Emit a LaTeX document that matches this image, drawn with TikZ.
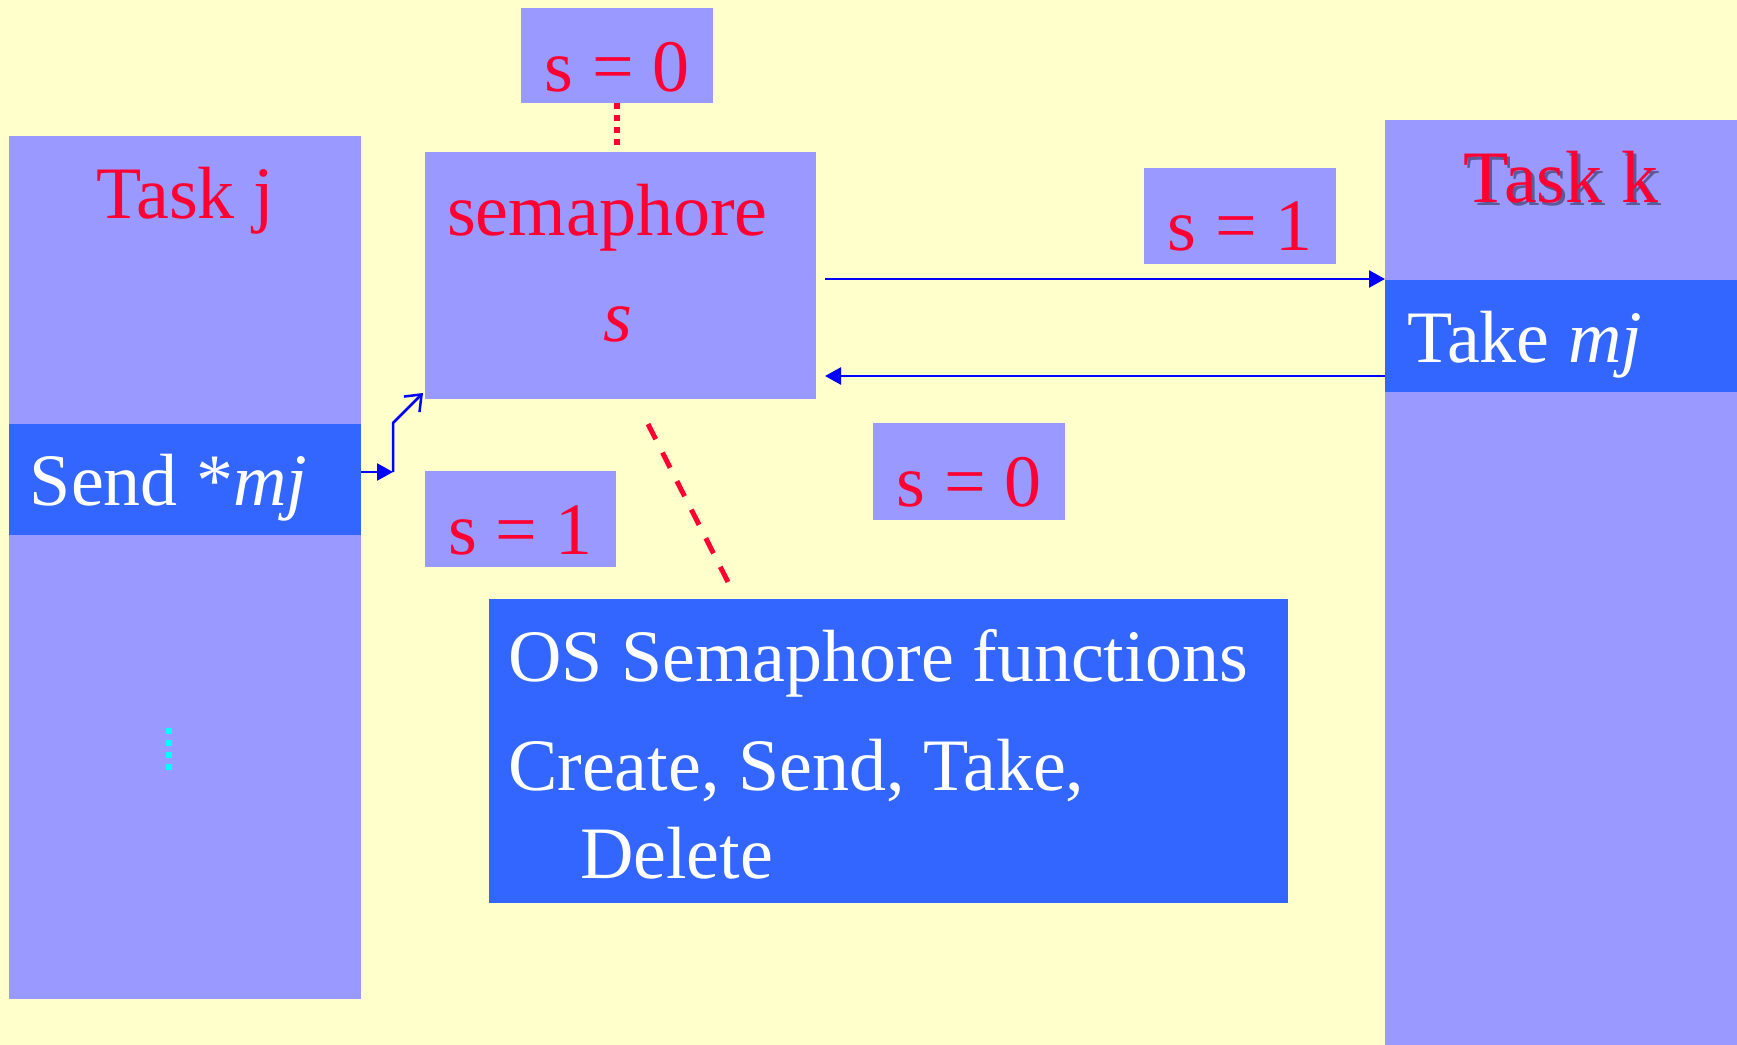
\documentclass[tikz,border=0pt]{standalone}
\usepackage{fontspec}
\setmainfont{Liberation Serif}
\usetikzlibrary{arrows.meta,fit}

\definecolor{paper}{HTML}{FFFFCC}
\definecolor{lav}{HTML}{9999FF}
\definecolor{band}{HTML}{3366FF}
\definecolor{redtext}{HTML}{FF0033}
\definecolor{flowblue}{HTML}{0000FF}
\definecolor{dotcyan}{HTML}{00FFFF}

\begin{document}
\begin{tikzpicture}[x=0.5pt,y=-0.5pt,
  panel/.style={fit={#1}, inner sep=0pt, outer sep=0pt, fill=lav, draw=none},
  strip/.style={fit={#1}, inner sep=0pt, outer sep=0pt, fill=band, draw=none},
  txt/.style={inner sep=0pt, outer sep=0pt, font=\fontsize{37pt}{44pt}\selectfont},
  redlabel/.style={txt, text=redtext},
  whitelabel/.style={txt, text=white},
  flow/.style={draw=flowblue, line width=1.25pt, -{Triangle[length=8pt,width=8.5pt]}},
  barbflow/.style={draw=flowblue, line width=1.25pt, -{Straight Barb[length=7pt,width=11pt]}},
  reddots/.style={draw=redtext, line width=3pt, dash pattern=on 3pt off 3pt},
  reddash/.style={draw=redtext, line width=2.5pt, dash pattern=on 8.5pt off 7.5pt},
  cyandots/.style={draw=dotcyan, line width=3pt, dash pattern=on 3pt off 3pt}
]
% page
\useasboundingbox (0,0) rectangle (1737,1045);
\fill[paper] (0,0) rectangle (1737,1045);

% task columns
\node[panel={(9,136)(361,999)}] (taskj) {};
\node[strip={(9,424)(361,535)}] (sendband) {};
\node[panel={(1385,120)(1737,1045)}] (taskk) {};
\node[strip={(1385,280)(1737,392)}] (takeband) {};

% semaphore and its value boxes
\node[panel={(425,152)(816,399)}] (sem) {};
\node[panel={(521,8)(713,103)}] (initval) {};
\node[panel={(1144,168)(1336,264)}] (valtake) {};
\node[panel={(873,423)(1065,520)}] (valback) {};
\node[panel={(425,471)(616,567)}] (valsend) {};

% OS function list
\node[strip={(489,599)(1288,903)}] (osbox) {};

% labels
\node[redlabel, anchor=base] (tjname) at (185,218) {Task j};
\node[txt, anchor=base, text=black, opacity=0.4] at (1564,205) {Task k};
\node[redlabel, anchor=base] (tkname) at (1561,202) {Task k};
\node[redlabel, anchor=base west] (semname) at (447,235) {semaphore};
\node[redlabel, anchor=base] (semvar) at (618,341) {\textit{s}};
\node[whitelabel, anchor=base west] (sendtxt) at (30,505) {Send *\textit{mj}};
\node[whitelabel, anchor=base west] (taketxt) at (1407,362) {Take \textit{mj}};
\node[redlabel, anchor=base] at (initval.center |- 0,91) {s = 0};
\node[redlabel, anchor=base] at (valtake.center |- 0,250) {s = 1};
\node[redlabel, anchor=base] at (valback.center |- 0,506) {s = 0};
\node[redlabel, anchor=base] at (valsend.center |- 0,554) {s = 1};
\node[whitelabel, anchor=base west] (osl1) at (508,681) {OS Semaphore functions};
\node[whitelabel, anchor=base west] (osl2) at (508,790) {Create, Send, Take,};
\node[whitelabel, anchor=base west] (osl3) at (580,878) {Delete};

% initial value tie
\draw[reddots] (initval.south) -- ([yshift=3pt]initval.south |- sem.north);

% pointer from the semaphore to the function list
\coordinate (tieA) at (648,424);
\coordinate (tieB) at (729,584);
\draw[reddash] (tieA) -- (tieB);

% elided steps in task j
\draw[cyandots] (169,728) -- (169,770);

% send path
\coordinate (bend) at (393,472);
\draw[flow] (sendband.east |- bend) -- (bend);
\draw[barbflow] (bend) -- (393,423) -- ([shift={(-1pt,3pt)}]sem.south west);

% take and release
\draw[flow] ([xshift=4.5pt]sem.east |- 0,279) -- (taskk.west |- 0,279);
\draw[flow] (taskk.west |- 0,376) -- ([xshift=4.5pt]sem.east |- 0,376);
\end{tikzpicture}
\end{document}
